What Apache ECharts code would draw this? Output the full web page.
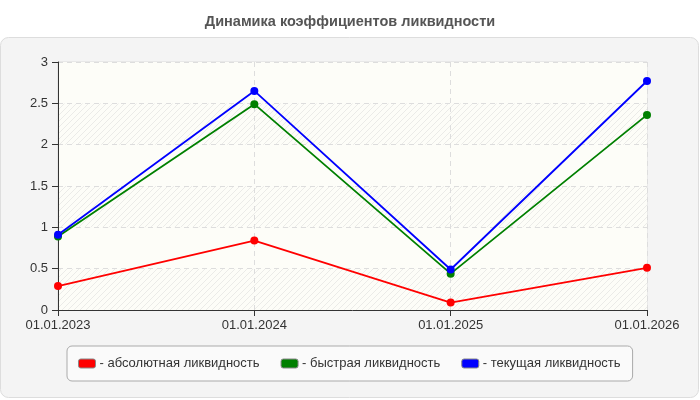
<!DOCTYPE html>
<html>
<head>
<meta charset="utf-8">
<script src="https://cdn.jsdelivr.net/npm/echarts@6/dist/echarts.min.js"></script>
<style>
  html, body { margin: 0; padding: 0; background: #fff; }
  #chart { width: 700px; height: 400px; }
</style>
</head>
<body>
<div id="chart"></div>
<script>
const dates = ["01.01.2023", "01.01.2024", "01.01.2025", "01.01.2026"];
const absoluteLiquidity = [0.29, 0.84, 0.09, 0.51];
const quickLiquidity = [0.89, 2.49, 0.44, 2.36];
const currentLiquidity = [0.91, 2.65, 0.49, 2.77];
const seriesNames = ["абсолютная ликвидность", "быстрая ликвидность", "текущая ликвидность"];

// diagonal hatch for every other band
const hatch = document.createElement("canvas");
hatch.width = 6; hatch.height = 6;
const hc = hatch.getContext("2d");
hc.fillStyle = "#fdfdf8";
hc.fillRect(0, 0, 6, 6);
hc.strokeStyle = "#ebebe8";
hc.lineWidth = 1;
hc.beginPath();
hc.moveTo(0, 6); hc.lineTo(6, 0);
hc.moveTo(-1, 1); hc.lineTo(1, -1);
hc.moveTo(5, 7); hc.lineTo(7, 5);
hc.stroke();

const chart = echarts.init(document.getElementById("chart"), null, { renderer: "canvas" });

function line(name, data, color) {
  return {
    name,
    type: "line",
    data,
    symbol: "circle",
    symbolSize: 8,
    lineStyle: { color, width: 1.8 },
    itemStyle: { color },
    emphasis: { disabled: true },
  };
}

chart.setOption({
  animation: false,
  backgroundColor: "#fff",
  textStyle: { fontFamily: "Liberation Sans, Arial, sans-serif" },
  title: {
    text: "Динамика коэффициентов ликвидности",
    left: "center",
    top: 9,
    textStyle: { color: "#555", fontSize: 14.5, fontWeight: "bold" },
  },
  graphic: [{
    type: "rect",
    z: -10,
    silent: true,
    shape: { x: 0.5, y: 37.5, width: 698, height: 360, r: 8 },
    style: { fill: "#f4f4f4", stroke: "#dddddd", lineWidth: 1 },
  }],
  grid: {
    left: 58, right: 53, top: 62, bottom: 90,
    show: true,
    backgroundColor: "#fdfdf8",
    borderColor: "#dddddd",
    borderWidth: 1,
  },
  legend: {
    left: 67,
    top: 346,
    orient: "horizontal",
    icon: "roundRect",
    itemWidth: 17,
    itemHeight: 9,
    itemGap: 21,
    padding: [11, 12, 11, 11],
    borderColor: "#aaaaaa",
    borderWidth: 1,
    borderRadius: 5,
    backgroundColor: "#fafafa",
    formatter: "- {name}",
    textStyle: { color: "#333", fontSize: 13, padding: [0, 0, 0, -1] },
    itemStyle: { borderColor: "#888", borderWidth: 1 },
    data: seriesNames,
  },
  xAxis: {
    type: "category",
    boundaryGap: false,
    data: dates,
    axisLine: { lineStyle: { color: "#333", width: 1 } },
    axisTick: { show: true, length: 6, lineStyle: { color: "#333" } },
    axisLabel: { color: "#333", fontSize: 13, margin: 9 },
    splitLine: { show: true, lineStyle: { color: "#dddddd", type: [5, 4] } },
  },
  yAxis: {
    type: "value",
    min: 0,
    max: 3,
    interval: 0.5,
    axisLine: { show: true, lineStyle: { color: "#333", width: 1 } },
    axisTick: { show: true, length: 6, lineStyle: { color: "#333" } },
    axisLabel: { color: "#333", fontSize: 13, margin: 10 },
    splitLine: { show: true, lineStyle: { color: "#dddddd", type: [5, 4] } },
    splitArea: {
      show: true,
      areaStyle: { color: [{ image: hatch, repeat: "repeat" }, "#fdfdf8"] },
    },
  },
  series: [
    line(seriesNames[0], absoluteLiquidity, "#ff0000"),
    line(seriesNames[1], quickLiquidity, "#008000"),
    line(seriesNames[2], currentLiquidity, "#0000ff"),
  ],
});
</script>
</body>
</html>
